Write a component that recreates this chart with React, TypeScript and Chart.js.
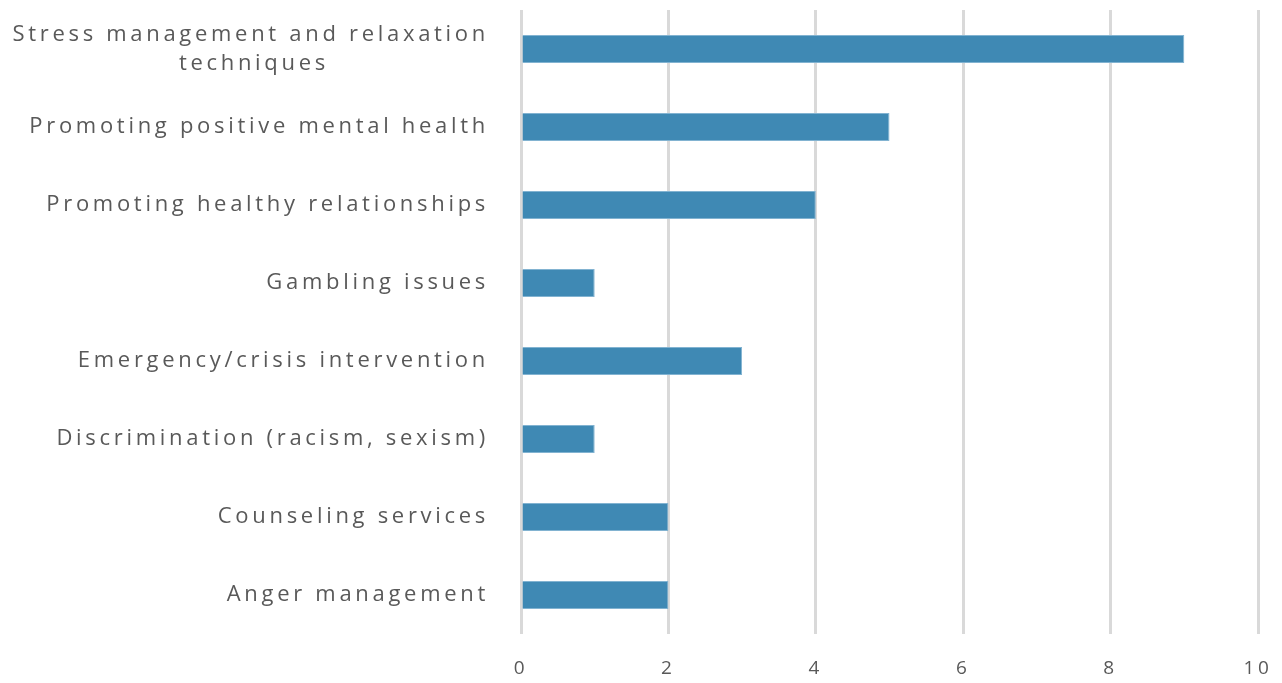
import React, { useEffect, useRef } from "react";
import { Chart, registerables } from "chart.js";

Chart.register(...registerables);

const categories: (string | string[])[] = [
  ["Stress management and relaxation", "techniques" + " ".repeat(17)],
  "Promoting positive mental health",
  "Promoting healthy relationships",
  "Gambling issues",
  "Emergency/crisis intervention",
  "Discrimination (racism, sexism)",
  "Counseling services",
  "Anger management",
];
const values = [9, 5, 4, 1, 3, 1, 2, 2];
const xMin = 0;
const xMax = 10;
const xStep = 2;

const spacingPlugin = {
  id: "letterSpacing",
  beforeLayout(chart: any) {
    chart.ctx.letterSpacing = "3.7px";
  },
  beforeDraw(chart: any) {
    chart.ctx.letterSpacing = "3.7px";
  },
};

export default function App() {
  const ref = useRef<HTMLCanvasElement | null>(null);
  useEffect(() => {
    if (!ref.current) return;
    const chart = new Chart(ref.current, {
      type: "bar",
      data: {
        labels: categories,
        datasets: [
          {
            data: values,
            backgroundColor: "#3f89b4",
            borderColor: "#82b3d1",
            borderWidth: 1,
            barPercentage: 0.36,
            categoryPercentage: 1,
          },
        ],
      },
      plugins: [spacingPlugin],
      options: {
        indexAxis: "y",
        animation: false,
        responsive: true,
        maintainAspectRatio: false,
        layout: { padding: { top: 2, right: 16, bottom: 0, left: 0 } },
        plugins: { legend: { display: false }, tooltip: { enabled: false } },
        scales: {
          x: {
            min: xMin,
            max: xMax,
            ticks: {
              stepSize: xStep,
              color: "#595959",
              font: { family: "'Open Sans'", size: 19 },
              padding: 0,
            },
            grid: {
              color: "#d9d9d9",
              lineWidth: 3,
              drawTicks: true,
              tickLength: 23,
              tickColor: "rgba(0,0,0,0)",
            },
            border: { display: false },
            afterFit: (scale: any) => {
              scale.height = 41;
              scale.paddingLeft = 0;
              scale.paddingRight = 0;
            },
          },
          y: {
            ticks: {
              color: "#595959",
              font: { family: "'Open Sans'", size: 22, lineHeight: 1.3 },
              padding: 0,
              autoSkip: false,
            },
            grid: { display: false, drawTicks: true, tickLength: 32 },
            border: { display: false },
            afterFit: (scale: any) => {
              scale.width = 513;
              scale.paddingTop = 0;
              scale.paddingBottom = 0;
            },
          },
        },
      },
    });
    return () => chart.destroy();
  }, []);
  return (
    <div style={{ width: "100%", height: 667, position: "relative" }}>
      <canvas ref={ref} />
    </div>
  );
}
